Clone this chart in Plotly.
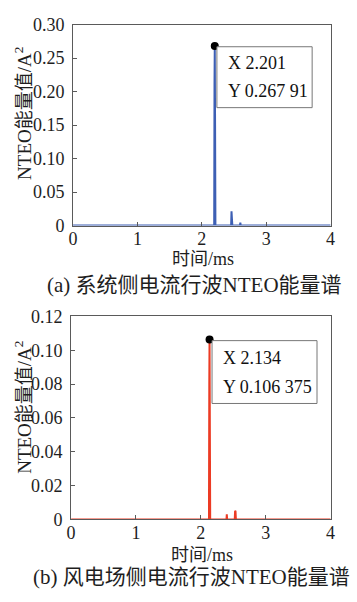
import plotly.graph_objects as go

# ---- data ----
sys_t = [0.0, 2.192, 2.197, 2.201, 2.206, 2.211, 2.455, 2.461, 2.467, 2.474, 2.592, 2.598, 2.604, 4.0]
sys_e = [0.0, 0.0, 0.21, 0.26791, 0.15, 0.0, 0.0, 0.0215, 0.011, 0.0, 0.0, 0.0045, 0.0, 0.0]
wind_t = [0.0, 2.125, 2.130, 2.134, 2.139, 2.144, 2.395, 2.400, 2.405, 2.522, 2.528, 2.534, 2.540, 4.0]
wind_e = [0.0, 0.0, 0.08, 0.106375, 0.05, 0.0, 0.0, 0.003, 0.0, 0.0, 0.0052, 0.0048, 0.0, 0.0]

peak_sys = (2.201, 0.26791)
peak_wind = (2.134, 0.106375)

x_ticks = [0, 1, 2, 3, 4]
sys_yticks = [0, 0.05, 0.10, 0.15, 0.20, 0.25, 0.30]
sys_ytext = ["0", "0.05", "0.10", "0.15", "0.20", "0.25", "0.30"]
wind_yticks = [0, 0.02, 0.04, 0.06, 0.08, 0.10, 0.12]
wind_ytext = ["0", "0.02", "0.04", "0.06", "0.08", "0.10", "0.12"]

ylabel = "NTEO能量值/A<sup>2</sup>"
xlabel = "时间/ms"
cap_a = "(a) 系统侧电流行波NTEO能量谱"
cap_b = "(b) 风电场侧电流行波NTEO能量谱"
tip_a = ["X 2.201", "Y 0.267 91"]
tip_b = ["X 2.134", "Y 0.106 375"]

W, H = 357, 602
FONT = "Liberation Serif, Times New Roman, Noto Sans CJK SC, serif"
BLUE = "#3d5fb4"
RED = "#ec3b24"
FRAME = "#5a5a5a"
TXT = "#1e1e1e"

def px(x):
    return x / W

def py(y):
    return 1 - y / H

fig = go.Figure()
fig.add_trace(go.Scatter(x=sys_t, y=sys_e, mode="lines", line=dict(color=BLUE, width=2),
                         xaxis="x", yaxis="y", showlegend=False))
fig.add_trace(go.Scatter(x=[peak_sys[0]], y=[peak_sys[1]], mode="markers",
                         marker=dict(color="black", size=8), xaxis="x", yaxis="y", showlegend=False))
fig.add_trace(go.Scatter(x=wind_t, y=wind_e, mode="lines", line=dict(color=RED, width=2),
                         xaxis="x2", yaxis="y2", showlegend=False))
fig.add_trace(go.Scatter(x=[peak_wind[0]], y=[peak_wind[1]], mode="markers",
                         marker=dict(color="black", size=8), xaxis="x2", yaxis="y2", showlegend=False))

axis_common = dict(showline=True, linecolor=FRAME, linewidth=1, mirror=True, ticks="inside",
                   ticklen=4, tickcolor=FRAME, showgrid=False, zeroline=False,
                   tickfont=dict(family=FONT, size=18, color=TXT))

fig.update_layout(
    width=W, height=H, margin=dict(l=0, r=0, t=0, b=0),
    paper_bgcolor="white", plot_bgcolor="white",
    xaxis=dict(domain=[px(70), px(335)], range=[0, 4], tickvals=x_ticks, anchor="y",
               ticklabelstandoff=-3, **axis_common),
    yaxis=dict(domain=[py(223), py(15)], range=[0, 0.30], tickvals=sys_yticks, ticktext=sys_ytext,
               anchor="x", ticklabelstandoff=4, **axis_common),
    xaxis2=dict(domain=[px(68), px(335)], range=[0, 4], tickvals=x_ticks, anchor="y2",
                ticklabelstandoff=-3, **axis_common),
    yaxis2=dict(domain=[py(527), py(317)], range=[0, 0.12], tickvals=wind_yticks, ticktext=wind_ytext,
                anchor="x2", ticklabelstandoff=4, **axis_common),
)

def txt(x, y, s, size, angle=0):
    fig.add_annotation(x=px(x), y=py(y), xref="paper", yref="paper", text=s, showarrow=False,
                       textangle=angle, xanchor="center", yanchor="middle",
                       font=dict(family=FONT, size=size, color=TXT))

# axis titles and captions
txt(19, 107, ylabel, 19, -90)
txt(204, 258, xlabel, 18)
txt(195, 284, cap_a, 21)
txt(19, 411, ylabel, 19, -90)
txt(203, 564, xlabel, 18)
txt(192, 586, cap_b, 21)

# data-tip boxes
def tip(x0, x1, y0, y1, tx, lines):
    fig.add_shape(type="rect", xref="paper", yref="paper", x0=px(x0), x1=px(x1), y0=py(y1), y1=py(y0),
                  line=dict(color="#777", width=1), fillcolor="white")
    for (ly, s) in zip(lines[0], lines[1]):
        fig.add_annotation(x=px(tx), y=py(ly), xref="paper", yref="paper", text=s,
                           showarrow=False, align="left", xanchor="left", yanchor="middle",
                           font=dict(family=FONT, size=18, color="#111"))

tip(218, 316, 38, 101, 227, ([55, 84], tip_a))
tip(213, 321, 342, 407, 222, ([360, 390], tip_b))

fig.write_html("out.html")
